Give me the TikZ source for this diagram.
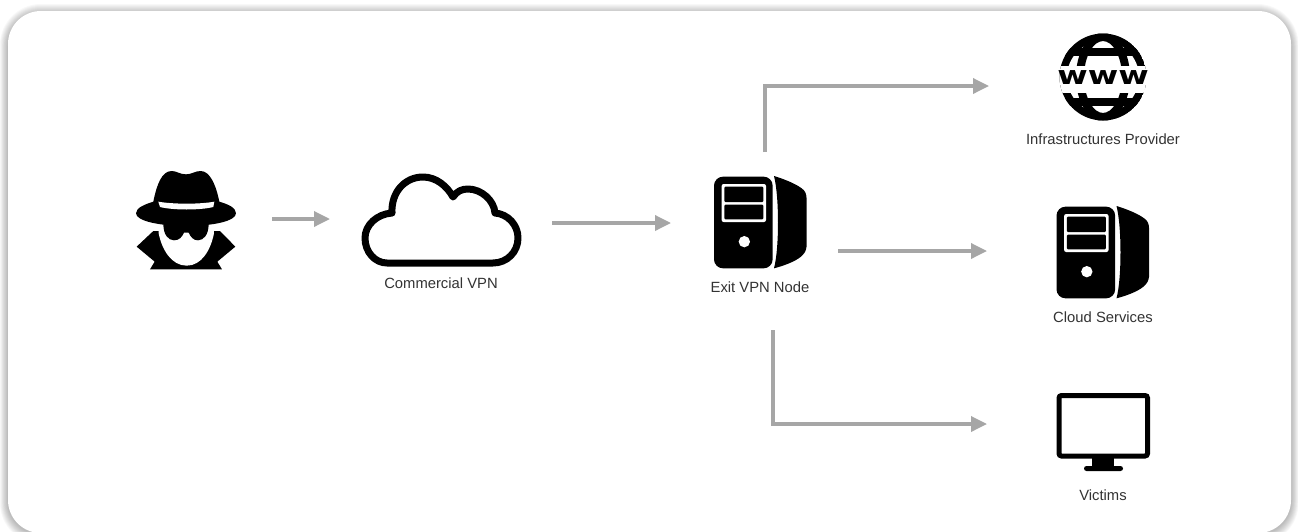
\documentclass[tikz,border=0pt]{standalone}
\usepackage{fontspec}
\setmainfont{Liberation Sans}
\usetikzlibrary{arrows.meta}
\definecolor{arrowgray}{HTML}{A6A6A6}
\definecolor{labelgray}{HTML}{333333}
\tikzset{
  conn/.style={draw=arrowgray,line width=3.4pt,-{Triangle[length=16pt,width=15pt]}},
  lbl/.style={text=labelgray,font=\fontsize{14.8}{16}\selectfont,inner sep=0pt},
  slot/.style={inner sep=0pt,outer sep=0pt,draw=none},
  serverico/.pic={
    \begin{scope}[x=.3333pt,y=-.3333pt]
      \fill[black,rounded corners=9pt] (72,50) rectangle (248,325);
      \fill[white,rounded corners=2pt] (95,72) rectangle (228,186);
      \fill[black,rounded corners=1pt] (103,80) rectangle (220,126);
      \fill[black,rounded corners=1pt] (103,134) rectangle (220,178);
      \fill[white] (163,245) circle[radius=17];
      \fill[black] (252,48) .. controls (268,110) and (268,265) .. (252,325)
        .. controls (290,315) and (325,300) .. (338,285)
        .. controls (348,275) and (350,265) .. (350,250) -- (350,120)
        .. controls (350,100) and (345,92) .. (335,85)
        .. controls (318,72) and (285,58) .. (252,48) -- cycle;
    \end{scope}
  }
}
\begin{document}
\begin{tikzpicture}[x=1pt,y=-1pt]
\useasboundingbox (0,0) rectangle (1298,531);
\fill[white] (0,0) rectangle (1298,531);
% card with soft shadow
\begin{scope}
  \clip (0,0) rectangle (1298,531);
  \foreach \i in {10,9,...,1}{
    \fill[black,opacity=.028,rounded corners={33pt+\i*.8pt}]
      ({8-\i*.8},{14-\i*1.0}) rectangle ({1291+\i*.75},{534+\i*1.0});
  }
  \fill[white,rounded corners=33pt] (8,11) rectangle (1291,533);
\end{scope}

% layout slots (invisible), whose sides carry the connector ends
\node[slot,minimum width=106pt,minimum height=100pt] (spy) at (219,219) {};
\node[slot,minimum width=222pt,minimum height=90pt] (vpn) at (441,223) {};
\node[slot,minimum width=167pt,minimum height=178pt] (exit) at (754.5,241) {};
\node[slot,minimum width=120pt,minimum height=86pt] (www) at (1049,86) {};
\node[slot,minimum width=120pt,minimum height=92pt] (cloudsrv) at (1047,251) {};
\node[slot,minimum width=120pt,minimum height=80pt] (victim) at (1047,424) {};

% spy
\begin{scope}[shift={(130pt,-165pt)},x=.3333pt,y=-.3333pt]
  \fill[black] (20,245) -- (70,198) -- (270,198) -- (316,245) -- (262,290) -- (276,313) -- (60,313) -- (74,290) -- cycle;
  \fill[white] (86,178) -- (252,178) -- (252,205)
     .. controls (242,255) and (215,302) .. (170,302)
     .. controls (125,302) and (96,255) .. (86,205) -- cycle;
  \fill[black] (70,110) .. controls (80,60) and (95,18) .. (125,18)
     .. controls (140,18) and (150,28) .. (168,28)
     .. controls (185,28) and (195,18) .. (212,18)
     .. controls (240,18) and (258,60) .. (268,110)
     .. controls (295,118) and (318,128) .. (318,145)
     .. controls (318,168) and (250,183) .. (168,183)
     .. controls (90,183) and (18,168) .. (18,145)
     .. controls (18,128) and (45,118) .. (70,110) -- cycle;
  \fill[white] (85,110) .. controls (130,118) and (210,118) .. (253,110)
     -- (250,126) .. controls (210,136) and (130,136) .. (90,126) -- cycle;
  \fill[black] (100,176) -- (236,176) .. controls (236,208) and (222,226) .. (204,226)
     .. controls (190,226) and (182,216) .. (176,203) -- (162,203)
     .. controls (156,216) and (148,226) .. (132,226)
     .. controls (114,226) and (100,208) .. (100,176) -- cycle;
\end{scope}

% cloud
\draw[black,line width=7pt,line join=round]
  (387,263) -- (493,263)
  .. controls (507,263) and (518,252) .. (518,238)
  .. controls (518,225) and (508,214) .. (495,213)
  .. controls (494,200) and (481,189) .. (468,189)
  .. controls (462,189) and (457,191) .. (453,197)
  .. controls (447,186) and (436,177) .. (423,177)
  .. controls (405,177) and (391,192) .. (392,213)
  .. controls (377,214) and (365,225) .. (365,238)
  .. controls (365,252) and (375,263) .. (387,263) -- cycle;

% servers
\pic at (690,160) {serverico};
\pic at (1032.5,190) {serverico};

% globe
\begin{scope}[shift={(1103pt,-77pt)}]
  \begin{scope}
    \clip (0,0) circle[radius=43.5];
    \fill[black] (0,0) circle[radius=43.5];
    \fill[white] (0,0) circle[radius=36];
    \draw[black,line width=8pt] (0,0) ellipse[x radius=23,y radius=40];
    \draw[black,line width=8pt] (-44,-25) -- (44,-25);
    \draw[black,line width=8pt] (-44,25) -- (44,25);
    \fill[white] (-45,-11) rectangle (45,16);
  \end{scope}
  \node[inner sep=0pt,anchor=center,font=\fontspec{DejaVu Sans Bold}\fontsize{30}{30}\selectfont] (wwwtext) at (0,1) {\scalebox{1.1}[.85]{www}};
\end{scope}

% monitor
\draw[black,line width=5pt,rounded corners=2.5pt] (1059,395.5) rectangle (1147.5,456);
\fill[black] (1092,457) rectangle (1114,467);
\fill[black,rounded corners=2.5pt] (1084,466) rectangle (1123,471);

% labels
\node[lbl] (vpnl) at (441,283) {Commercial VPN};
\node[lbl] (exitl) at (760,287) {Exit VPN Node};
\node[lbl] (wwwl) at (1103,139) {Infrastructures Provider};
\node[lbl] (cloudl) at (1103,317) {Cloud Services};
\node[lbl] (victiml) at (1103,495) {Victims};

% connectors
\draw[conn] (spy.east) -- (spy.east -| vpn.west);
\draw[conn] (vpn.east) -- (vpn.east -| exit.west);
\draw[conn] ([xshift=10.5pt]exit.north) |- (www.west);
\draw[conn] ([yshift=-10pt]exit.east) -- (cloudsrv.west);
\draw[conn] ([xshift=18.5pt]exit.south) |- (victim.west);
\end{tikzpicture}
\end{document}
